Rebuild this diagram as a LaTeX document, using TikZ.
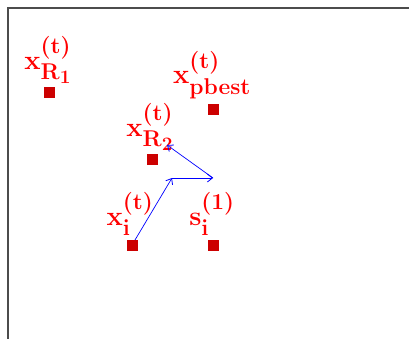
\documentclass[tikz,border=0pt]{standalone}
\usepackage{amsmath}
\usetikzlibrary{arrows.meta}
\begin{document}
\begin{tikzpicture}[x=1pt,y=-1pt,
  pt/.style={fill={rgb,255:red,204;green,0;blue,0},minimum size=11pt,inner sep=0pt,outer sep=0pt},
  lab/.style={text=red,font=\Huge\boldmath,inner sep=0pt,anchor=south,scale=1.1,transform shape},
  vec/.style={blue,line width=0.7pt,-{Straight Barb[length=5pt,width=8pt,line width=0.8pt]}}]
\useasboundingbox (0,0) rectangle (409,339);
\draw[black!70,line width=1.2pt] (8,339) -- (8,8) -- (409,8);
\node[pt] (r1) at (49,93) {};
\node[pt] (pb) at (213,110) {};
\node[pt] (r2) at (152,160) {};
\node[pt] (xi) at (132,245) {};
\node[pt] (si) at (213,245) {};
\node[lab] (lr1) at (48,84) {$\mathbf{x}^{(\mathbf{t})}_{\mathbf{R_1}}$};
\node[lab] (lpb) at (212,99) {$\mathbf{x}^{(\mathbf{t})}_{\mathbf{pbest}}$};
\node[lab] (lr2) at (150,151) {$\mathbf{x}^{(\mathbf{t})}_{\mathbf{R_2}}$};
\node[lab] (lxi) at (130,236) {$\mathbf{x}^{(\mathbf{t})}_{\mathbf{i}}$};
\node[lab] (lsi) at (212,236) {$\mathbf{s}^{(\mathbf{1})}_{\mathbf{i}}$};
\coordinate (s) at (135,240);
\coordinate (a) at (172,178);
\coordinate (b) at (213,178);
\coordinate (c) at (167,145);
\draw[vec] (s) -- (a);
\draw[vec] (a) -- (b);
\draw[vec] (b) -- (c);
\end{tikzpicture}
\end{document}
